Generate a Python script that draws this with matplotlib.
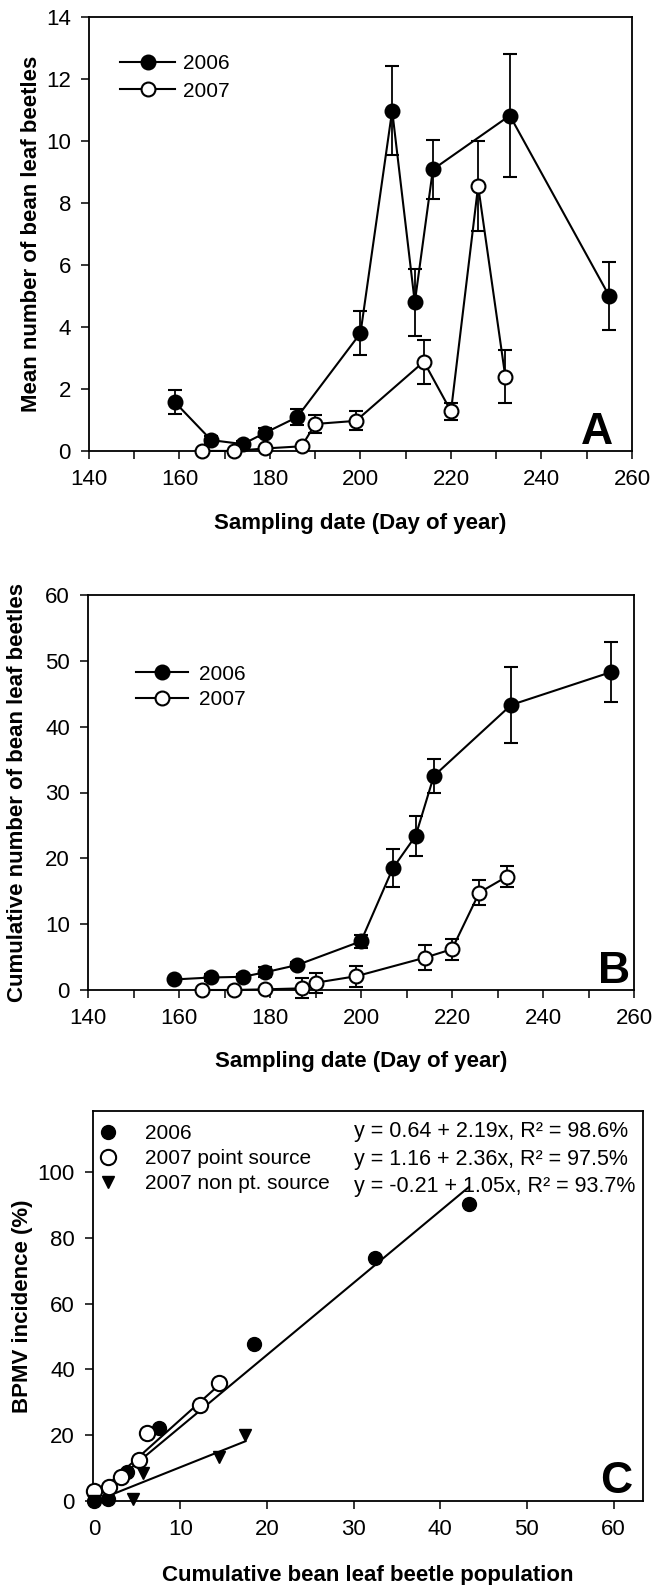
import numpy as np
import matplotlib.pyplot as plt
from matplotlib.lines import Line2D
from matplotlib.ticker import MultipleLocator

plt.rcParams['font.family'] = ['Liberation Sans', 'DejaVu Sans']
plt.rcParams['axes.linewidth'] = 1.3
plt.rcParams['xtick.major.width'] = 1.1
plt.rcParams['ytick.major.width'] = 1.1
plt.rcParams['xtick.minor.width'] = 1.1

# sampling dates and mean counts
day06 = [159, 167, 174, 179, 186, 200, 207, 212, 216, 233, 255]
mean06 = [1.57, 0.35, 0.22, 0.59, 1.09, 3.8, 10.98, 4.79, 9.08, 10.82, 4.99]
se06 = [0.38, 0.12, 0.1, 0.15, 0.25, 0.7, 1.43, 1.09, 0.96, 1.97, 1.09]
day07 = [165, 172, 179, 187, 190, 199, 214, 220, 226, 232]
mean07 = [0, 0, 0.08, 0.15, 0.87, 0.97, 2.88, 1.28, 8.55, 2.4]
se07 = [0, 0, 0.05, 0.05, 0.28, 0.31, 0.71, 0.27, 1.45, 0.84]

# cumulative counts
cum06 = [1.6, 1.9, 2.0, 2.7, 3.8, 7.4, 18.5, 23.4, 32.5, 43.3, 48.3]
cumse06 = [0.2, 0.5, 0.4, 0.8, 0.4, 1.0, 2.9, 3.0, 2.6, 5.8, 4.6]
cum07 = [0, 0, 0.1, 0.25, 1.1, 2.1, 4.9, 6.2, 14.8, 17.2]
cumse07 = [0, 0, 0.1, 1.5, 1.5, 1.6, 1.9, 1.6, 1.9, 1.6]

# BPMV incidence vs cumulative population
pop06 = [0.0, 1.6, 3.8, 7.5, 18.5, 32.5, 43.3]
inc06 = [0.0, 0.5, 8.8, 22.3, 47.8, 74.0, 90.4]
pop07p = [0.0, 1.8, 3.1, 5.2, 6.1, 12.2, 14.4]
inc07p = [3.1, 4.4, 7.3, 12.5, 20.8, 29.1, 35.8]
pop07n = [0.0, 4.5, 5.7, 14.5, 17.5]
inc07n = [0.0, 0.6, 8.6, 13.5, 20.0]

# intercept, slope, R2 (%)
fit06 = (0.64, 2.19, 98.6)
fit07p = (1.16, 2.36, 97.5)
fit07n = (-0.21, 1.05, 93.7)

TICK = 16
LEG = 15
LAB = 16

fig = plt.figure(figsize=(6.52, 15.85), dpi=100)
axA = fig.add_axes([0.1365, 0.7155, 0.8328, 0.2738])
axB = fig.add_axes([0.1350, 0.3754, 0.8374, 0.2492])
axC = fig.add_axes([0.1426, 0.0530, 0.8436, 0.2461])


def series(ax, x, y, err, face):
    ax.errorbar(x, y, yerr=err, color='black', lw=1.5, elinewidth=1.3,
                capsize=5, capthick=1.3, marker='o', ms=10, mfc=face,
                mec='black', mew=1.5, clip_on=False, zorder=3)


def year_handles():
    return [Line2D([], [], color='black', lw=1.5, marker='o', ms=10,
                   mfc=face, mec='black', mew=1.5)
            for face in ('black', 'white')]


def style_time(ax, ymax, ystep):
    ax.set_xlim(140, 260)
    ax.set_ylim(0, ymax)
    ax.xaxis.set_major_locator(MultipleLocator(20))
    ax.xaxis.set_minor_locator(MultipleLocator(10))
    ax.yaxis.set_major_locator(MultipleLocator(ystep))
    ax.tick_params(direction='out', length=6, labelsize=TICK, pad=7)
    ax.tick_params(which='minor', direction='out', length=6)
    ax.set_xlabel('Sampling date (Day of year)', fontsize=LAB, fontweight='bold')
    ax.xaxis.label.set_va('center')


series(axA, day06, mean06, se06, 'black')
series(axA, day07, mean07, se07, 'white')
style_time(axA, 14, 2)
axA.set_ylabel('Mean number of bean leaf beetles', fontsize=LAB, fontweight='bold')
axA.yaxis.label.set_va('center')
axA.yaxis.set_label_coords(-0.105, 0.5)
axA.xaxis.set_label_coords(0.5, -0.168)
axA.legend(year_handles(), ['2006', '2007'], loc='upper left',
           bbox_to_anchor=(0.058, 0.914), frameon=False, fontsize=LEG,
           handlelength=2.6, handletextpad=0.4, labelspacing=0.4,
           borderpad=0, borderaxespad=0)
axA.text(0.965, 0.016, 'A', transform=axA.transAxes, fontsize=32,
         fontweight='bold', ha='right', va='baseline')

series(axB, day06, cum06, cumse06, 'black')
series(axB, day07, cum07, cumse07, 'white')
style_time(axB, 60, 10)
axB.set_ylabel('Cumulative number of bean leaf beetles', fontsize=LAB, fontweight='bold')
axB.yaxis.label.set_va('center')
axB.yaxis.set_label_coords(-0.13, 0.5)
axB.xaxis.set_label_coords(0.5, -0.18)
axB.legend(year_handles(), ['2006', '2007'], loc='upper left',
           bbox_to_anchor=(0.088, 0.824), frameon=False, fontsize=LEG,
           handlelength=2.5, handletextpad=0.5, labelspacing=0.32,
           borderpad=0, borderaxespad=0)
axB.text(0.993, 0.018, 'B', transform=axB.transAxes, fontsize=32,
         fontweight='bold', ha='right', va='baseline')

# scatter with fitted regression lines
axC.plot(pop06, inc06, 'o', color='black', ms=10, clip_on=False,
         zorder=3, label='2006')
axC.plot(pop07p, inc07p, 'o', mfc='white', mec='black', mew=1.5, ms=11,
         clip_on=False, zorder=3, label='2007 point source')
axC.plot(pop07n, inc07n, 'v', color='black', ms=9, clip_on=False,
         zorder=3, label='2007 non pt. source')
eqs = []
for (a, b, r2), xs in [(fit06, pop06), (fit07p, pop07p), (fit07n, pop07n)]:
    xx = np.array([min(xs), max(xs)])
    axC.plot(xx, a + b * xx, color='black', lw=1.5, zorder=2)
    eqs.append('y = %.2f + %.2fx, R\u00b2 = %.1f%%' % (a, b, r2))
for i, s in enumerate(eqs):
    axC.text(30.0, 112.2 - 8.3 * i, s, fontsize=15.5, ha='left', va='center')

axC.set_xlim(-0.1, 63.4)
axC.set_ylim(0, 118.6)
axC.xaxis.set_major_locator(MultipleLocator(10))
axC.set_yticks([0, 20, 40, 60, 80, 100])
axC.tick_params(direction='out', length=6, labelsize=TICK, pad=7)
axC.set_xlabel('Cumulative bean leaf beetle population', fontsize=LAB, fontweight='bold')
axC.xaxis.label.set_va('center')
axC.xaxis.set_label_coords(0.5, -0.19)
axC.set_ylabel('BPMV incidence (%)', fontsize=LAB, fontweight='bold')
axC.yaxis.label.set_va('center')
axC.yaxis.set_label_coords(-0.128, 0.5)
axC.legend(loc='upper left', bbox_to_anchor=(0.0, 0.967), frameon=False,
           fontsize=LEG, handlelength=1.4, handletextpad=1.1,
           labelspacing=0.3, borderpad=0, borderaxespad=0)
axC.text(0.98, 0.02, 'C', transform=axC.transAxes, fontsize=32,
         fontweight='bold', ha='right', va='baseline')

fig.savefig('out.png', dpi=100)
